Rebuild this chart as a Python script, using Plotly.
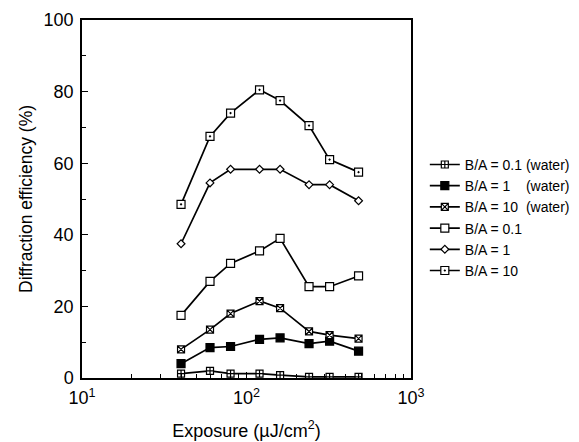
import plotly.graph_objects as go

exposure = [40, 60, 80, 120, 160, 240, 320, 480]

ba01_water = [1.2, 2.0, 1.2, 1.2, 0.8, 0.3, 0.3, 0.3]
ba1_water = [4.0, 8.5, 8.8, 10.8, 11.2, 9.6, 10.3, 7.5]
ba10_water = [8.0, 13.5, 18.0, 21.5, 19.5, 13.0, 12.0, 11.0]
ba01 = [17.5, 27.0, 32.0, 35.5, 39.0, 25.5, 25.5, 28.5]
ba1 = [37.5, 54.5, 58.3, 58.3, 58.3, 54.0, 54.0, 49.5]
ba10 = [48.5, 67.5, 74.0, 80.5, 77.5, 70.5, 61.0, 57.5]

series_names = [
    "B/A = 0.1 (water)",
    "B/A = 1\u00a0\u00a0\u00a0\u00a0(water)",
    "B/A = 10\u00a0\u00a0(water)",
    "B/A = 0.1",
    "B/A = 1",
    "B/A = 10",
]
series_values = [ba01_water, ba1_water, ba10_water, ba01, ba1, ba10]
symbols = ["square-cross", "square", "square-x", "square", "diamond", "square-dot"]
fills = ["white", "black", "white", "white", "white", "white"]
sizes = [7, 8, 7, 8, 6, 8]

x_tickvals = [10, 100, 1000]
x_ticktext = ["10<sup>1</sup>", "10<sup>2</sup>", "10<sup>3</sup>"]
y_tickvals = [0, 20, 40, 60, 80, 100]

fig = go.Figure()
for name, vals, sym, fc, sz in zip(series_names, series_values, symbols, fills, sizes):
    fig.add_trace(go.Scatter(
        x=exposure, y=vals, name=name, mode="lines+markers",
        line=dict(color="black", width=1.7),
        marker=dict(symbol=sym, size=sz, color=fc, line=dict(color="black", width=1.2)),
    ))

minor_x = [v * m for v in (10, 100) for m in range(2, 10)]

fig.update_layout(
    width=579, height=442,
    margin=dict(l=74, r=169, t=12, b=72),
    paper_bgcolor="white", plot_bgcolor="white",
    font=dict(family="Liberation Sans, Arial, sans-serif", color="black", size=16),
    showlegend=True,
    legend=dict(
        x=1.042, y=0.64, xanchor="left", yanchor="top",
        font=dict(size=14), itemwidth=30, tracegroupgap=0,
        bgcolor="rgba(0,0,0,0)",
    ),
    xaxis=dict(
        type="log", range=[1, 3], automargin=False,
        tickvals=x_tickvals, ticktext=x_ticktext,
        ticks="inside", ticklen=6, tickwidth=1.2, tickcolor="black",
        showline=True, linecolor="black", linewidth=1.5, mirror=True,
        showgrid=False, zeroline=False, ticklabelstandoff=3,
        minor=dict(tickvals=minor_x, ticks="inside", ticklen=4, tickcolor="black", showgrid=False),
        title=dict(text="Exposure (\u00b5J/cm<sup>2</sup>)", font=dict(size=18), standoff=17),
        tickfont=dict(size=18),
    ),
    yaxis=dict(
        range=[0, 100], automargin=False,
        tickvals=y_tickvals,
        ticks="inside", ticklen=6, tickwidth=1.2, tickcolor="black",
        showline=True, linecolor="black", linewidth=1.5, mirror=True,
        showgrid=False, zeroline=False, ticklabelstandoff=3,
        minor=dict(dtick=10, ticks="inside", ticklen=4, tickcolor="black", showgrid=False),
        title=dict(text="Diffraction efficiency (%)", font=dict(size=17.5), standoff=6),
        tickfont=dict(size=18),
    ),
)

fig.write_html("out.html")
